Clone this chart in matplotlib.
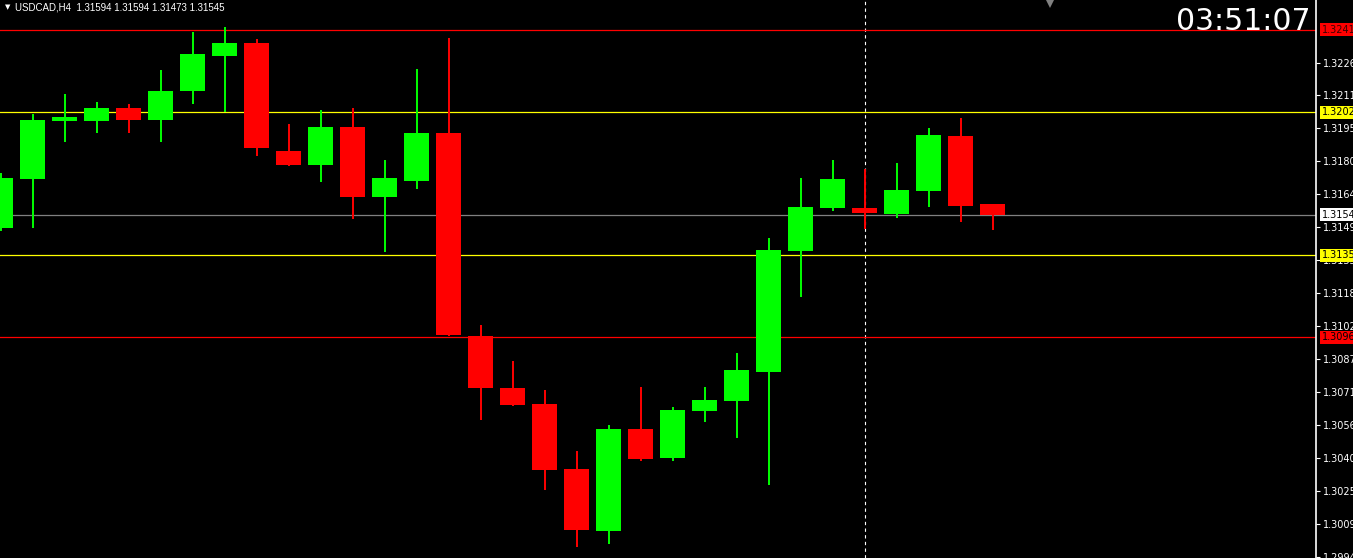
import matplotlib
matplotlib.use("Agg")
import matplotlib.pyplot as plt
import numpy as np

# USDCAD H4 candles (left to right)
opens = [1.31483, 1.31713, 1.31987, 1.31987, 1.32046, 1.31991, 1.32128, 1.32292,
         1.32352, 1.31844, 1.31780, 1.31957, 1.31630, 1.31705, 1.31929, 1.30975,
         1.30731, 1.30656, 1.30351, 1.30061, 1.30539, 1.30404, 1.30625, 1.30672,
         1.30808, 1.31376, 1.31578, 1.31577, 1.31550, 1.31658, 1.31915, 1.31594]
highs = [1.31741, 1.32018, 1.32112, 1.32075, 1.32065, 1.32225, 1.32403, 1.32427,
         1.32370, 1.31971, 1.32037, 1.32046, 1.31802, 1.32229, 1.32375, 1.31027,
         1.30858, 1.30722, 1.30435, 1.30557, 1.30736, 1.30642, 1.30736, 1.30896,
         1.31436, 1.31718, 1.31802, 1.31760, 1.31788, 1.31952, 1.31999, 1.31594]
lows = [1.31469, 1.31483, 1.31888, 1.31930, 1.31930, 1.31888, 1.32067, 1.32028,
        1.31822, 1.31775, 1.31700, 1.31526, 1.31371, 1.31667, 1.30978, 1.30582,
        1.30649, 1.30253, 1.29984, 1.30000, 1.30390, 1.30390, 1.30573, 1.30498,
        1.30277, 1.31160, 1.31564, 1.31477, 1.31531, 1.31583, 1.31512, 1.31473]
closes = [1.31718, 1.31990, 1.32004, 1.32046, 1.31991, 1.32126, 1.32300, 1.32352,
          1.31860, 1.31780, 1.31957, 1.31630, 1.31718, 1.31929, 1.30981, 1.30733,
          1.30651, 1.30347, 1.30066, 1.30539, 1.30398, 1.30628, 1.30675, 1.30816,
          1.31379, 1.31581, 1.31713, 1.31555, 1.31661, 1.31920, 1.31587, 1.31545]

tick_vals = [1.32260, 1.32110, 1.31955, 1.31800, 1.31645, 1.31490, 1.31335, 1.31180,
             1.31025, 1.30870, 1.30715, 1.30560, 1.30405, 1.30250, 1.30095, 1.29940]

# horizontal levels: price, line colour, label box colour, label text colour
levels = [(1.32415, "#ff0000", "#ff0000", "#400000"),
          (1.32026, "#ffff00", "#ffff00", "#000000"),
          (1.31545, "#808080", "#ffffff", "#000000"),
          (1.31355, "#ffff00", "#ffff00", "#000000"),
          (1.30969, "#ff0000", "#ff0000", "#000000")]

symbol = "USDCAD,H4"
clock = "03:51:07"
cursor_bar = 27

bull = "#00ff00"
bear = "#ff0000"

fig = plt.figure(figsize=(13.53, 5.58), dpi=100, facecolor="black")
ax = fig.add_axes([0, 0, 1316 / 1353, 1])
ax.set_facecolor("black")

o = np.array(opens)
h = np.array(highs)
l = np.array(lows)
c = np.array(closes)
x = np.arange(len(o))
cols = [bull if cc >= oo else bear for oo, cc in zip(o, c)]

ax.vlines(x, l, h, colors=cols, linewidth=1.4, zorder=3)
ax.bar(x, np.maximum(np.abs(c - o), 0.00003), bottom=np.minimum(o, c),
       width=0.78, color=cols, linewidth=0, zorder=4)

for price, lc, bc, tc in levels:
    ax.axhline(price, color=lc, linewidth=0.9, zorder=2)

ax.axvline(cursor_bar, color="white", linewidth=0.8, dashes=(3, 3), zorder=1)

ax.set_xlim(-0.016, 41.1)
ax.set_ylim(1.29933, 1.32554)

ax.yaxis.tick_right()
ax.set_yticks(tick_vals)
ax.set_yticklabels(["%.5f" % v for v in tick_vals])
ax.tick_params(axis="y", colors="white", labelsize=7, length=3, width=0.8, pad=2)
ax.set_xticks([])
for side in ["top", "bottom", "left"]:
    ax.spines[side].set_visible(False)
ax.spines["right"].set_color("white")
ax.spines["right"].set_linewidth(1.2)

# price labels on the axis
for price, lc, bc, tc in levels:
    ax.text(1.0045, price, "%.5f" % price, transform=ax.get_yaxis_transform(),
            ha="left", va="center", fontsize=7, color=tc, clip_on=False, zorder=10,
            bbox=dict(boxstyle="square,pad=0.15", facecolor=bc, edgecolor="none"))

# header and clock
fig.text(0.0035, 0.987, "\u25bc", color="white", fontsize=5, ha="left", va="center")
fig.text(0.011, 0.987, "%s  %.5f %.5f %.5f %.5f" % (symbol, opens[-1], highs[-1], lows[-1], closes[-1]),
         color="white", fontsize=7, ha="left", va="center", family="Liberation Sans")
fig.text(1310 / 1353, 0.962, clock, color="white", fontsize=21.5, ha="right", va="center")
ax.plot([1050 / 1316], [0.994], marker="v", color="#808080", markersize=7,
        markeredgewidth=0, transform=ax.transAxes, clip_on=False)

fig.savefig("out.png", dpi=100, facecolor="black")
